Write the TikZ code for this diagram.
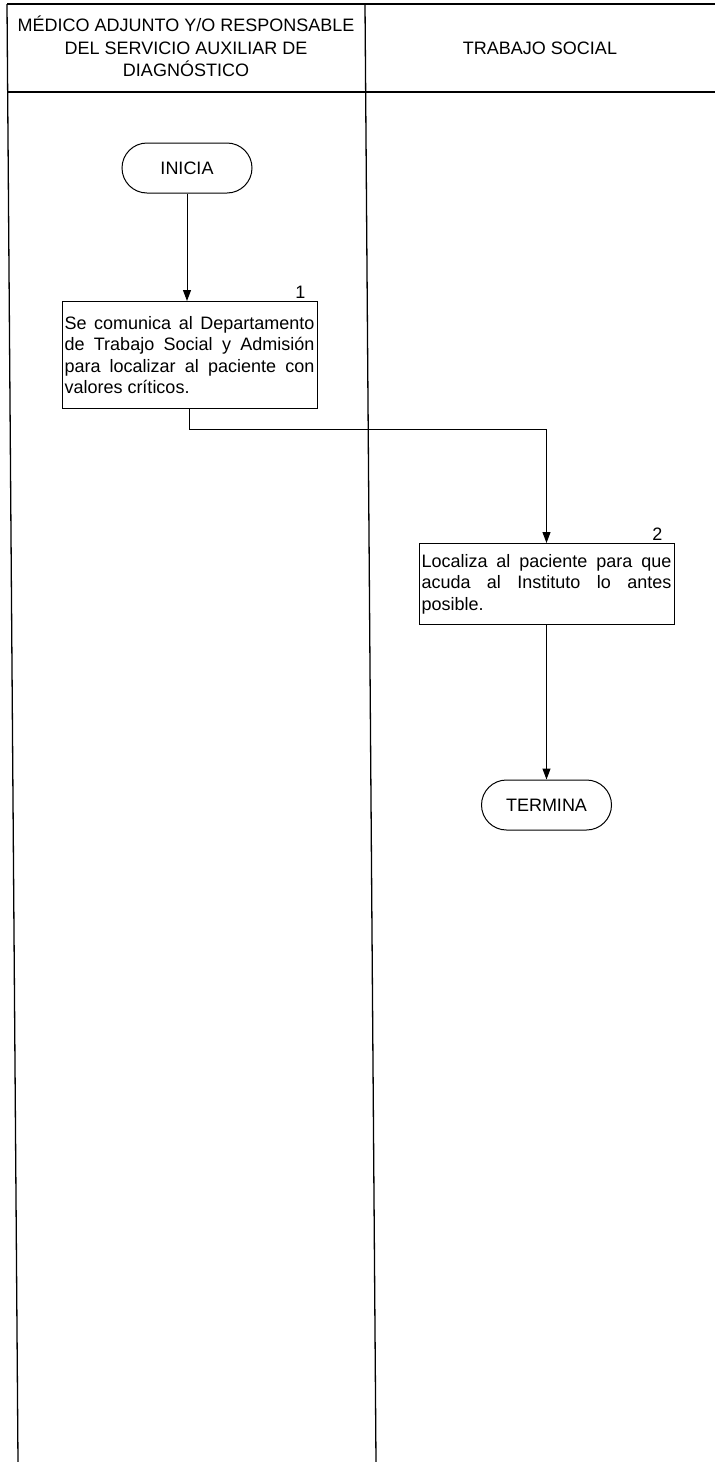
\documentclass[tikz,border=0pt]{standalone}
\usepackage{fontspec}
\setmainfont{Liberation Sans}
\usepackage{tikz}
\usetikzlibrary{arrows.meta,shapes}
\newcommand{\boxw}{250pt}
\newcommand{\lanew}{1.3pt}
\newcommand{\flowfont}{\fontsize{18}{21.5}\selectfont}

\begin{document}
\begin{tikzpicture}[x=1pt,y=-1pt,
        lane/.style={line width=\lanew},
        head/.style={align=center, font=\fontsize{18}{22.5}\selectfont},
        proc/.style={draw, rectangle, line width=1pt, text width=\boxw, align=justify,
            inner xsep=2.5pt, inner ysep=13pt, font=\flowfont},
        term/.style={draw, rectangle, rounded corners=25pt, minimum width=130pt,
            minimum height=50pt, line width=1pt, font=\flowfont},
        stepno/.style={anchor=south east, inner sep=2pt, font=\flowfont},
        flow/.style={-{Triangle[length=11pt,width=8pt]}, line width=1pt}]
    \useasboundingbox (0,0) rectangle (715,1462);
    % swim lanes
    \draw[lane] (7,4) -- (715,4);
    \draw[lane] (7,92) -- (715,92);
    \draw[lane] (7,4) -- (18,1462);
    \draw[lane] (365,4) -- (376,1462);
    \node[head] (medico) at (186,46.5) {MÉDICO ADJUNTO Y/O RESPONSABLE\\DEL SERVICIO AUXILIAR DE\\DIAGNÓSTICO};
    \node[head] (trabajo) at (540,48) {TRABAJO SOCIAL};
    % flow
    \node[term] (ini) at (187,168) {INICIA};
    \node[proc, anchor=north, minimum height=107pt] (act1) at (189.5,301) {Se comunica al Departamento\linebreak
        de Trabajo Social y Admisión\linebreak para localizar al paciente con\linebreak valores críticos.};
    \node[stepno] (n1) at ([xshift=-10pt]act1.north east) {1};
    \node[proc, anchor=north, inner ysep=10.5pt] (act2) at (546.5,543) {Localiza al paciente para que\linebreak
        acuda al Instituto lo antes\linebreak posible.};
    \node[stepno] (n2) at ([xshift=-10pt]act2.north east) {2};
    \node[term] (fin) at (546.5,805) {TERMINA};
    \draw[flow] (ini.south) -- (ini.south |- act1.north);
    \draw[flow] (act1.south) -- ++(0,20) -| (act2.north);
    \draw[flow] (act2.south) -- (fin.north);
\end{tikzpicture}
\end{document}
